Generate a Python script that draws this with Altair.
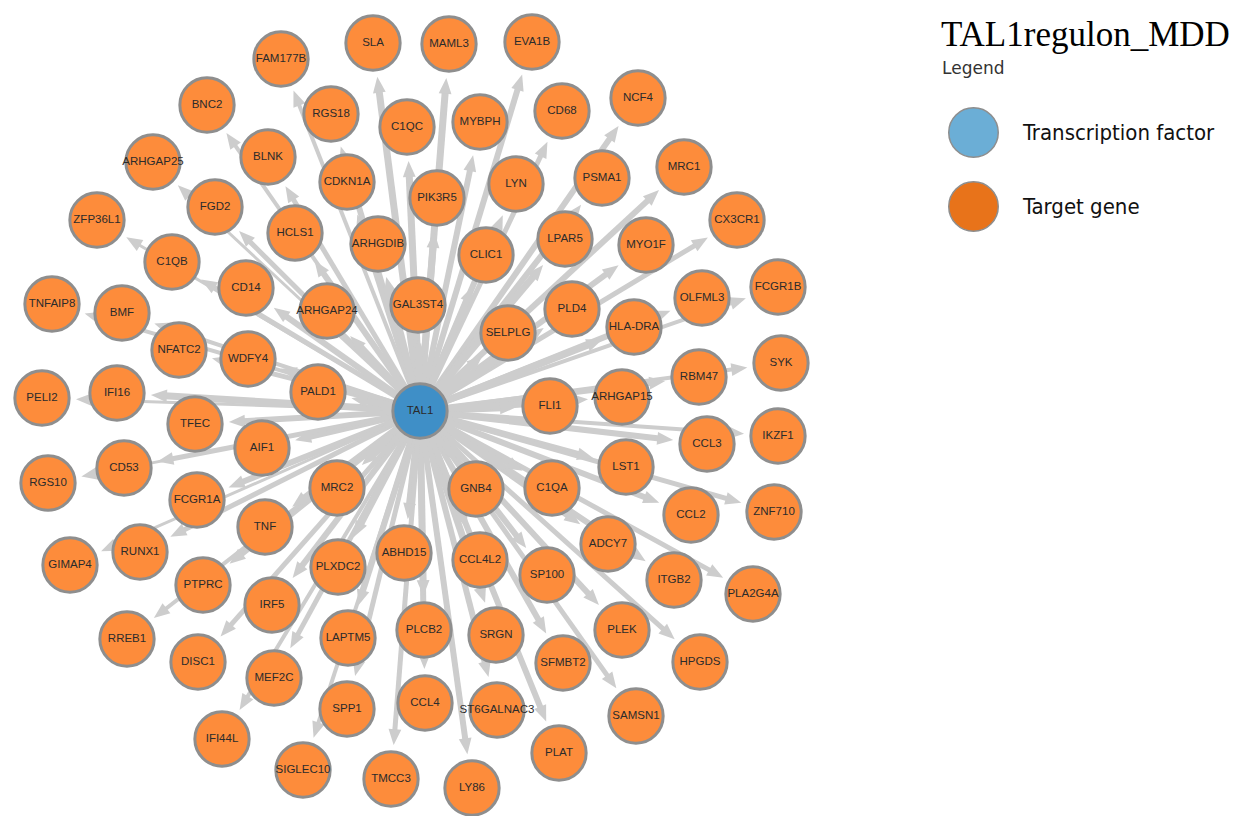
import math
import altair as alt
import pandas as pd

# ---- data (pixel-space layout of the network) ----
tf_name = "TAL1"
tf_x, tf_y = 420, 411

targets = ["SLA", "MAML3", "EVA1B", "FAM177B", "NCF4", "BNC2", "CD68", "RGS18", "C1QC", "MYBPH",
           "MRC1", "ARHGAP25", "BLNK", "PSMA1", "LYN", "PIK3R5", "CDKN1A", "CX3CR1", "FGD2", "ZFP36L1",
           "HCLS1", "ARHGDIB", "CLIC1", "LPAR5", "MYO1F", "C1QB", "FCGR1B", "OLFML3", "CD14", "ARHGAP24",
           "GAL3ST4", "PLD4", "HLA-DRA", "SELPLG", "TNFAIP8", "BMF", "NFATC2", "WDFY4", "SYK", "RBM47",
           "PELI2", "IFI16", "PALD1", "TFEC", "FLI1", "ARHGAP15", "IKZF1", "CCL3", "AIF1", "CD53",
           "RGS10", "MRC2", "LST1", "GNB4", "C1QA", "FCGR1A", "TNF", "ZNF710", "CCL2", "RUNX1",
           "GIMAP4", "PLXDC2", "ABHD15", "CCL4L2", "ADCY7", "SP100", "ITGB2", "PLA2G4A", "PTPRC", "IRF5",
           "RREB1", "LAPTM5", "PLCB2", "SRGN", "PLEK", "SFMBT2", "HPGDS", "DISC1", "MEF2C", "SPP1",
           "CCL4", "ST6GALNAC3", "SAMSN1", "PLAT", "IFI44L", "SIGLEC10", "TMCC3", "LY86"]
target_x = [373, 449, 532, 281, 638, 207, 562, 331, 407, 480,
            684, 153, 268, 602, 516, 437, 347, 737, 215, 97,
            295, 378, 486, 565, 646, 172, 778, 702, 246, 327,
            418, 572, 634, 508, 52, 122, 179, 248, 781, 699,
            42, 117, 318, 195, 550, 622, 778, 707, 262, 124,
            48, 337, 626, 476, 552, 197, 265, 774, 691, 140,
            70, 338, 404, 480, 608, 547, 674, 753, 203, 272,
            127, 348, 424, 496, 622, 563, 700, 198, 274, 347,
            425, 497, 636, 559, 222, 303, 391, 472]
target_y = [43, 44, 42, 59, 98, 105, 111, 114, 127, 122,
            167, 162, 157, 178, 184, 198, 182, 220, 207, 220,
            233, 244, 255, 239, 245, 262, 287, 298, 288, 311,
            305, 309, 327, 333, 304, 313, 350, 359, 363, 377,
            398, 393, 392, 424, 406, 397, 436, 444, 448, 468,
            483, 488, 467, 489, 488, 500, 527, 512, 515, 552,
            565, 567, 553, 560, 544, 575, 580, 594, 585, 605,
            639, 638, 630, 635, 630, 663, 662, 662, 678, 709,
            703, 710, 716, 753, 739, 770, 779, 788]
edge_width = [7, 7, 6, 4, 6, 4, 5, 6, 7, 6,
              6, 3, 5, 6, 6, 7, 6, 5, 5, 3,
              6, 7, 7, 7, 6, 5, 4, 6, 6, 7,
              7, 7, 7, 7, 4, 4, 5, 6, 4, 6,
              3, 7, 7, 6, 7, 7, 4, 6, 6, 5,
              3, 7, 6, 7, 7, 6, 6, 5, 6, 5,
              3, 7, 7, 7, 6, 6, 6, 5, 6, 6,
              4, 6, 7, 7, 6, 6, 5, 5, 5, 5,
              6, 6, 5, 6, 4, 4, 5, 6]

legend_labels = ["Transcription factor", "Target gene"]
legend_colors = ["#6baed6", "#e8731a"]
node_colors = {"Transcription factor": "#3f8fc7", "Target gene": "#fd8c3b"}
title_text = "TAL1regulon_MDD"
subtitle_text = "Legend"

W, H = 1242, 816
R_NODE = 32      # outer radius of a node (px)
ARROW_LEN = 16

# ---- derived tables ----
edge_rows = []
for name, x, y, w in zip(targets, target_x, target_y, edge_width):
    dx, dy = x - tf_x, y - tf_y
    d = math.hypot(dx, dy)
    ux, uy = dx / d, dy / d
    tip = R_NODE + 2
    edge_rows.append({
        "target": name,
        "x": tf_x, "y": tf_y,
        "x2": x - ux * (tip + ARROW_LEN - 2), "y2": y - uy * (tip + ARROW_LEN - 2),
        "ax": x - ux * (tip + ARROW_LEN / 2), "ay": y - uy * (tip + ARROW_LEN / 2),
        "angle": math.degrees(math.atan2(ux, -uy)) % 360,
        "w": w,
    })
edges = pd.DataFrame(edge_rows)

nodes = pd.DataFrame({
    "name": [tf_name] + targets,
    "x": [tf_x] + target_x,
    "y": [tf_y] + target_y,
    "type": ["Transcription factor"] + ["Target gene"] * len(targets),
})
nodes["fill"] = nodes["type"].map(node_colors)

xs = alt.Scale(domain=[0, W], nice=False, zero=False)
ys = alt.Scale(domain=[0, H], nice=False, zero=False, reverse=True)
X = lambda f: alt.X(f, scale=xs, axis=None)
Y = lambda f: alt.Y(f, scale=ys, axis=None)

edge_lines = alt.Chart(edges).mark_rule(color="#cdcdcd", strokeCap="butt").encode(
    x=X("x:Q"), y=Y("y:Q"), x2="x2:Q", y2="y2:Q",
    strokeWidth=alt.StrokeWidth("w:Q", scale=None),
)

arrows = alt.Chart(edges).mark_point(
    shape="M-0.8,1L0.8,1L0,-1Z", filled=True, color="#cdcdcd", opacity=1, size=256, strokeWidth=0
).encode(
    x=X("ax:Q"), y=Y("ay:Q"),
    angle=alt.Angle("angle:Q", scale=None),
)

# layer that only carries the legend (hidden under the real nodes)
legend_layer = alt.Chart(nodes).mark_circle(size=0, opacity=1).encode(
    x=X("x:Q"), y=Y("y:Q"),
    fill=alt.Fill("type:N",
                  scale=alt.Scale(domain=legend_labels, range=legend_colors),
                  legend=alt.Legend(
                      title=None, orient="none", legendX=948, legendY=107,
                      symbolType="circle", symbolSize=2450, symbolStrokeColor="#9a9a9a",
                      symbolStrokeWidth=1.5, symbolOpacity=1,
                      labelFont="DejaVu Sans Condensed, Liberation Sans Narrow, sans-serif",
                      labelFontSize=22, labelColor="#111", labelOffset=24,
                      rowPadding=17, padding=0, labelLimit=400,
                  )),
)

node_circles = alt.Chart(nodes).mark_circle(
    size=2950, opacity=1, stroke="#8e8e8e", strokeWidth=3
).encode(
    x=X("x:Q"), y=Y("y:Q"),
    fill=alt.Fill("fill:N", scale=None),
)

node_labels = alt.Chart(nodes).mark_text(
    font="Liberation Sans", fontSize=11.5, color="#2b2b2b"
).encode(
    x=X("x:Q"), y=Y("y:Q"), text="name:N",
)

title_df = pd.DataFrame({"t": [title_text]})
title_mark = alt.Chart(title_df).mark_text(
    font="Liberation Serif", fontSize=35, color="#000", align="left", baseline="alphabetic"
).encode(x=alt.value(941), y=alt.value(46), text="t:N")

sub_df = pd.DataFrame({"t": [subtitle_text]})
sub_mark = alt.Chart(sub_df).mark_text(
    font="DejaVu Sans", fontSize=17, color="#333", align="left", baseline="alphabetic"
).encode(x=alt.value(942), y=alt.value(74), text="t:N")

chart = alt.layer(
    legend_layer, edge_lines, arrows, node_circles, node_labels, title_mark, sub_mark
).properties(
    width=W, height=H, padding=0, autosize=alt.AutoSizeParams(type="none"), background="white"
).configure_view(stroke=None)

chart.save("out.html", embed_options={"renderer": "svg", "actions": False})
